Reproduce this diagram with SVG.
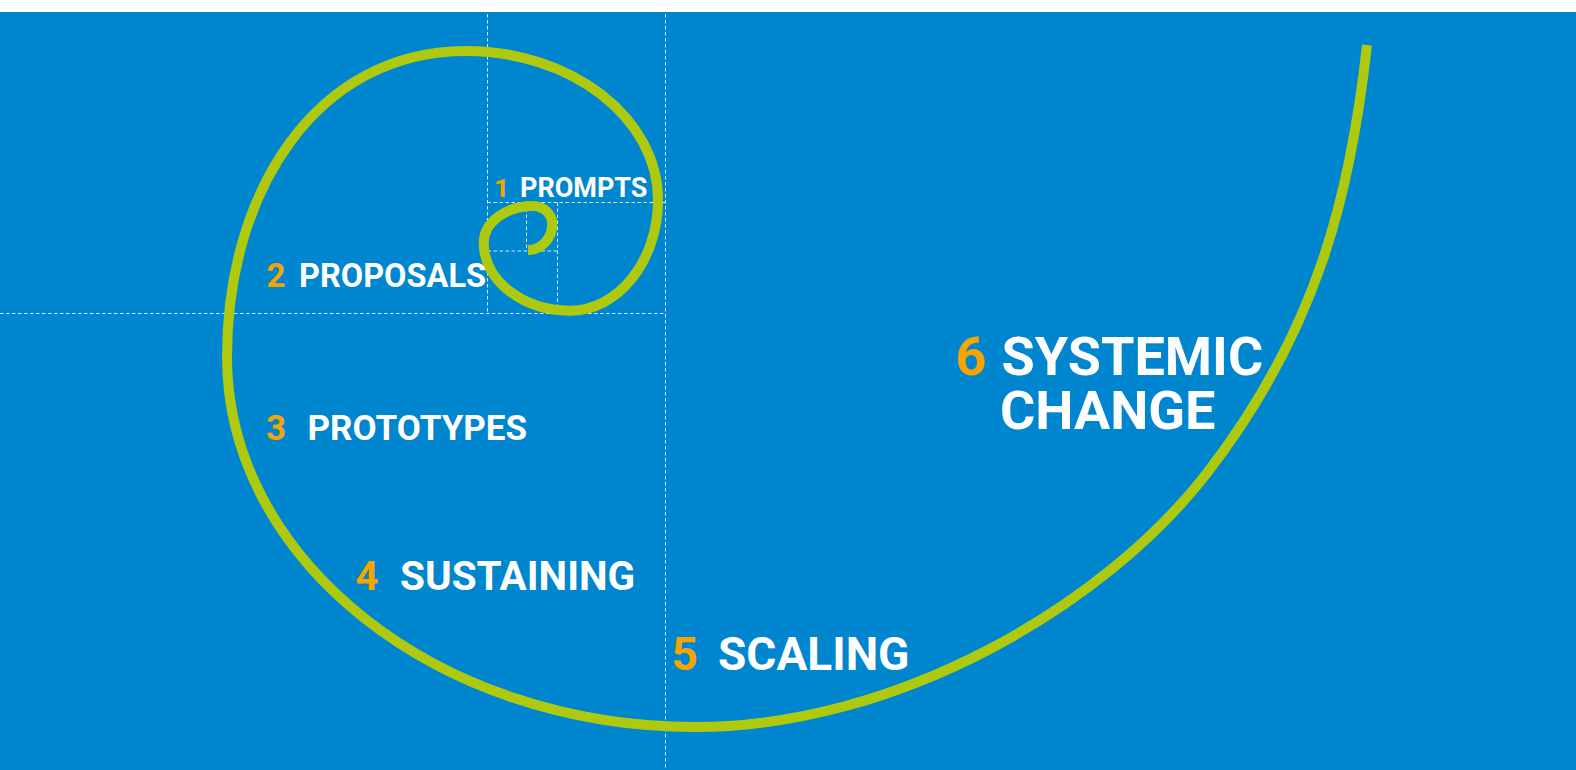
<svg xmlns="http://www.w3.org/2000/svg" width="1576" height="770" viewBox="0 0 1576 770">
  <style>
    .grid { stroke: #ffffff; stroke-opacity: 0.85; stroke-width: 1; stroke-dasharray: 3.5 2.5; fill: none; }
    .spiral { stroke: #AFCA0E; stroke-width: 10; fill: none; stroke-linecap: butt; stroke-linejoin: round; }
    .num { fill: #F5A400; font-family: Roboto, "Liberation Sans", sans-serif; font-weight: bold; }
    .lbl { fill: #ffffff; font-family: Roboto, "Liberation Sans", sans-serif; font-weight: bold; }
  </style>
  <rect x="0" y="0" width="1576" height="770" fill="#ffffff"/>
  <rect x="0" y="12" width="1576" height="758" fill="#0086CE"/>

  <g id="grid">
    <line class="grid" x1="487.5" y1="14" x2="487.5" y2="313.5"/>
    <line class="grid" x1="665.5" y1="14" x2="665.5" y2="770"/>
    <line class="grid" x1="0" y1="313.5" x2="665.5" y2="313.5"/>
    <line class="grid" x1="487.5" y1="202.5" x2="665.5" y2="202.5"/>
    <line class="grid" x1="557.5" y1="202.5" x2="557.5" y2="313.5"/>
    <line class="grid" x1="487.5" y1="251" x2="557.5" y2="251"/>
    <line class="grid" x1="526.5" y1="202.5" x2="526.5" y2="251"/>
  </g>

  <g id="connectors">
    <path class="spiral" d="M 1367,45 C 1350.5,195 1317,331 1207,473 C 1103,607.5 895,727 695,727 C 438,727 227,560.5 227,357 C 227,189 318,51 466,51 C 571.6,51 658,118 658,200 C 658,260.9 618.4,310.7 570,310.7 C 522.5,310.7 483.7,280.2 483.7,243 C 483.7,222.6 505.9,206 533,206 C 543.6,206 552.3,214.1 552.3,224 C 552.3,238.3 541.4,250 528,250"/>
  </g>

  <g id="step1">
    <text class="num" x="494" y="196.5" font-size="26.5">1</text>
    <text class="lbl" x="520" y="196.5" font-size="27">PROMPTS</text>
  </g>
  <g id="step2">
    <text class="num" x="266.5" y="287" font-size="33">2</text>
    <text class="lbl" x="299" y="287" font-size="32.5">PROPOSALS</text>
  </g>
  <g id="step3">
    <text class="num" x="266" y="440" font-size="35">3</text>
    <text class="lbl" x="307.5" y="440" font-size="35">PROTOTYPES</text>
  </g>
  <g id="step4">
    <text class="num" x="355.5" y="590" font-size="40">4</text>
    <text class="lbl" x="400" y="590" font-size="40.5">SUSTAINING</text>
  </g>
  <g id="step5">
    <text class="num" x="671.5" y="669.5" font-size="46">5</text>
    <text class="lbl" x="718" y="669.5" font-size="46">SCALING</text>
  </g>
  <g id="step6">
    <text class="num" x="955.5" y="375" font-size="54">6</text>
    <text class="lbl" x="1001.5" y="375" font-size="54">SYSTEMIC</text>
    <text class="lbl" x="1000" y="428.5" font-size="54">CHANGE</text>
  </g>
</svg>
